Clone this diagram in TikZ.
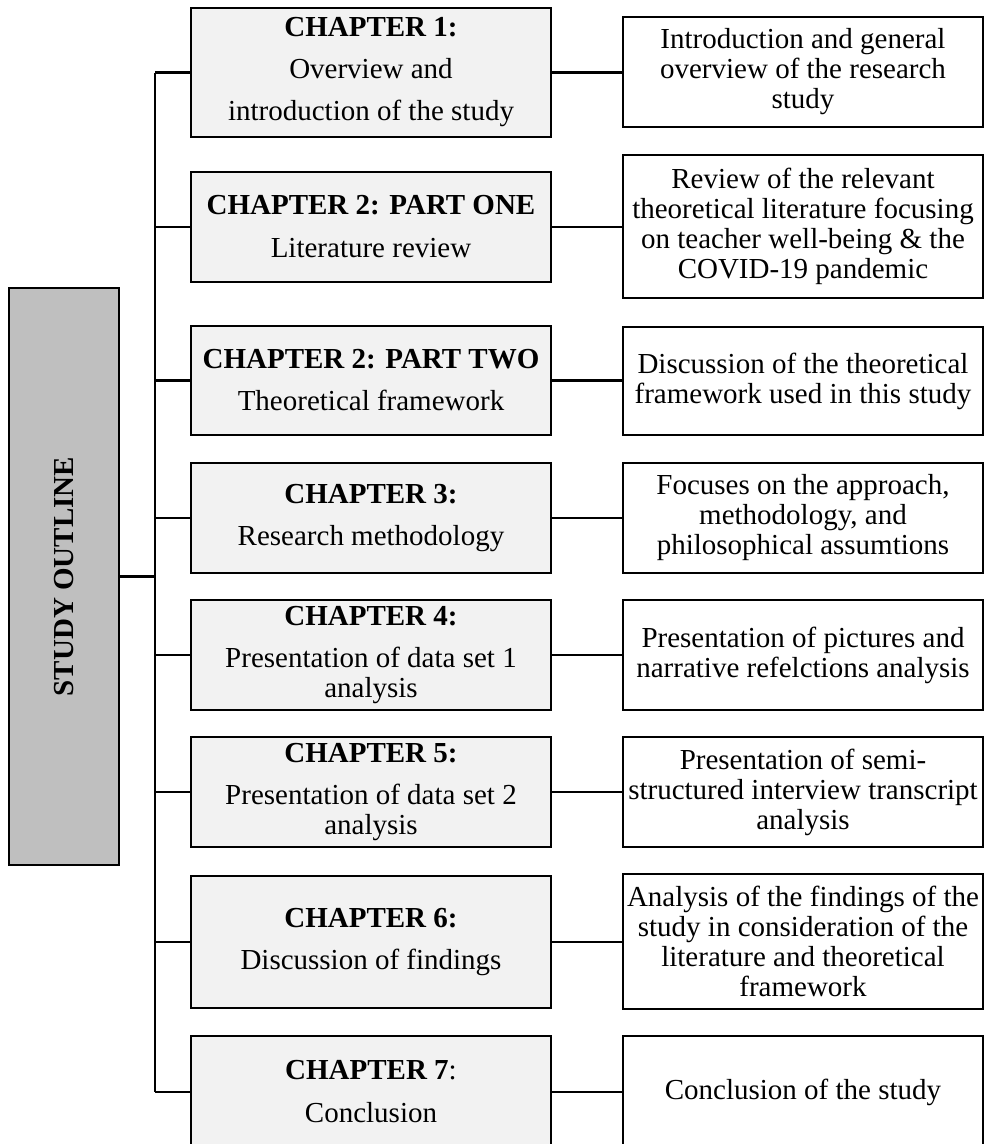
\documentclass[tikz,border=0pt]{standalone}
\usepackage{fontspec}
\setmainfont{Liberation Serif}
\definecolor{outlinegray}{HTML}{BFBFBF}
\definecolor{chapgray}{HTML}{F2F2F2}
\begin{document}
\begin{tikzpicture}[x=1pt,y=-1pt,
  box/.style={draw=black, line width=2.6pt, inner sep=0pt, align=center,
    font=\fontsize{29}{30}\selectfont, minimum width=360pt},
  chapbox/.style={box, fill=chapgray},
  descbox/.style={box, fill=white},
  conn/.style={line width=2.2pt},
  trunkline/.style={line width=2.6pt},
  mainline/.style={line width=3.3pt}
]
\useasboundingbox (0,0) rectangle (984,1144);

% left outline box
\node[draw=black, line width=2.6pt, fill=outlinegray, minimum width=110pt,
  minimum height=577pt, inner sep=0pt] (outline) at (64,576.5)
  {\rotatebox{90}{\fontsize{29}{30}\selectfont\bfseries STUDY OUTLINE}};

% chapter boxes
\node[chapbox, minimum height=129pt] (m1) at (371,72.5)
  {\textbf{CHAPTER 1:}\\[12pt]Overview and\\[12pt]introduction of the study};
\node[chapbox, minimum height=110pt] (m2) at (371,227)
  {\textbf{CHAPTER 2: PART ONE}\\[13pt]Literature review};
\node[chapbox, minimum height=109pt] (m3) at (371,380.5)
  {\textbf{CHAPTER 2: PART TWO}\\[12pt]Theoretical framework};
\node[chapbox, minimum height=110pt] (m4) at (371,518)
  {\textbf{CHAPTER 3:}\\[12pt]Research methodology};
\node[chapbox, minimum height=110pt] (m5) at (371,655)
  {\textbf{CHAPTER 4:}\\[12pt]Presentation of data set 1\\analysis};
\node[chapbox, minimum height=110pt] (m6) at (371,792)
  {\textbf{CHAPTER 5:}\\[12pt]Presentation of data set 2\\analysis};
\node[chapbox, minimum height=132pt] (m7) at (371,942)
  {\textbf{CHAPTER 6:}\\[12pt]Discussion of findings};
\node[chapbox, minimum height=112pt] (m8) at (371,1092)
  {\textbf{CHAPTER 7}:\\[13pt]Conclusion};

% description boxes
\node[descbox, minimum height=110pt] (r1) at (803,72)
  {Introduction and general\\overview of the research\\study};
\node[descbox, minimum height=143pt] (r2) at (803,226.5)
  {Review of the relevant\\theoretical literature focusing\\on teacher well-being \& the\\COVID-19 pandemic};
\node[descbox, minimum height=108pt] (r3) at (803,381)
  {Discussion of the theoretical\\framework used in this study};
\node[descbox, minimum height=110pt] (r4) at (803,518)
  {Focuses on the approach,\\methodology, and\\philosophical assumtions};
\node[descbox, minimum height=110pt] (r5) at (803,655)
  {Presentation of pictures and\\narrative refelctions analysis};
\node[descbox, minimum height=110pt] (r6) at (803,792)
  {Presentation of semi-\\structured interview transcript\\analysis};
\node[descbox, minimum height=135pt] (r7) at (803,941.5)
  {Analysis of the findings of the\\study in consideration of the\\literature and theoretical\\framework};
\node[descbox, minimum height=112pt] (r8) at (803,1092)
  {Conclusion of the study};

% trunk
\coordinate (tx) at (155,0);
\draw[mainline] (outline.east) -- (outline.east -| tx);
\draw[trunkline] (m1.west -| tx) -- (m8.west -| tx);
\foreach \i in {1,...,8}{
  \draw[conn] (m\i.west -| tx) -- (m\i.west);
  \draw[conn] (m\i.east) -- (m\i.east -| r\i.west);
}
\end{tikzpicture}
\end{document}
